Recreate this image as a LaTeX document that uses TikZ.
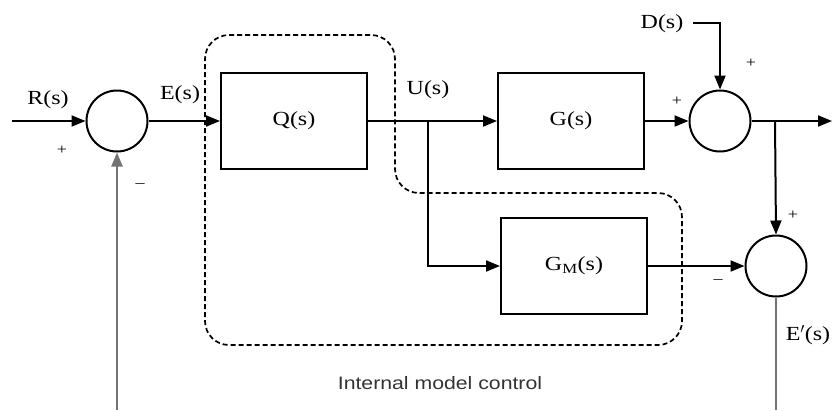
\documentclass[tikz,border=0pt]{standalone}
\usepackage{fontspec}
\setmainfont{Liberation Serif}[FakeStretch=1.2]
\setsansfont{Liberation Sans}[FakeStretch=1.18]
\usetikzlibrary{arrows.meta}
\begin{document}
\begin{tikzpicture}[x=1pt,y=-1pt,
  wire/.style={line width=2pt,black},
  arr/.style={wire,-{Triangle[length=14pt,width=11pt]}},
  fb/.style={line width=2.4pt,black!55},
  sumnode/.style={circle,draw,line width=2pt,minimum size=61pt,inner sep=0pt},
  blk/.style={rectangle,draw,line width=2pt,minimum width=146pt,minimum height=96pt,inner sep=0pt,font=\fontsize{20}{24}\selectfont},
  lbl/.style={font=\fontsize{20}{24}\selectfont,inner sep=0pt},
  sgn/.style={font=\fontsize{15}{17}\selectfont,inner sep=0pt},
  region/.style={line width=1.7pt,dash pattern=on 5pt off 3pt,rounded corners=24pt}
]
\useasboundingbox (0,0) rectangle (833,410);

% blocks and junctions
\node[sumnode] (s1) at (117,121) {};
\node[blk] (Q) at (294,121) {Q(s)};
\node[blk] (G) at (571,121) {G(s)};
\node[sumnode] (s2) at (720,121) {};
\node[blk] (GM) at (574,266) {G\textsubscript{M}(s)};
\node[sumnode] (s3) at (776,266) {};

% free ends and branch points
\coordinate (in) at (12,121);
\coordinate (br) at (428,121);
\coordinate (br2) at (775,121);
\coordinate (out) at (832,121);
\coordinate (dstart) at (693,23);
\coordinate (fbend) at (117,410);
\coordinate (eend) at (776,410);

% internal model region
\draw[region] (205,35) -- (395,35) -- (395,193) -- (682,193) -- (682,345) -- (205,345) -- cycle;

% connectors
\draw[arr] (in) -- (s1.west);
\draw[arr] (s1.east) -- (Q.west);
\draw[wire] (Q.east) -- (br);
\draw[arr] (br) -- (G.west);
\draw[arr] (G.east) -- (s2.west);
\draw[wire] (s2.east) -- (br2);
\draw[arr] (br2) -- (out);
\draw[arr] (br2) -- (s3.north);
\draw[arr] (dstart) -| (s2.north);
\draw[arr] (br) |- (GM.west);
\draw[arr] (GM.east) -- (s3.west);
\draw[fb] (s3.south) -- (eend);
\draw[fb,-{Triangle[length=14pt,width=11pt]}] (fbend) -- (s1.south);

% labels
\node[lbl] (lR) at (48,100) {R(s)};
\node[lbl] (lE) at (180,95) {E(s)};
\node[lbl] (lU) at (428,90) {U(s)};
\node[lbl] (lD) at (662,24) {D(s)};
\node[lbl] (lE2) at (808,335) {E$^{\prime}$(s)};
\node[sgn] (p1) at (62,150) {+};
\node[sgn] (m1) at (140,186) {\textendash};
\node[sgn] (p2) at (677,101) {+};
\node[sgn] (p3) at (751,63) {+};
\node[sgn] (p4) at (793,215) {+};
\node[sgn] (m2) at (718,282) {\textendash};
\node[font=\sffamily\fontsize{18}{22}\selectfont,text=black!80,inner sep=0pt] (imc) at (440,383) {Internal model control};
\end{tikzpicture}
\end{document}
